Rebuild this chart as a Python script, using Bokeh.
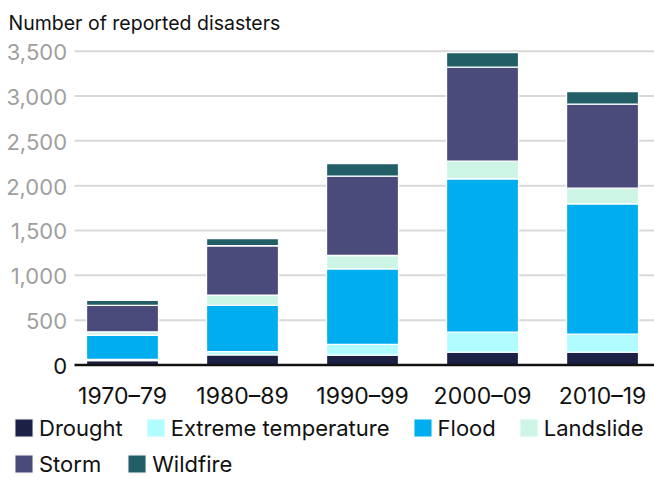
from bokeh.plotting import figure
from bokeh.models import ColumnDataSource, Legend, LegendItem, Range1d
from bokeh.embed import file_html
from bokeh.resources import INLINE
from bokeh.core.properties import value

# ---- data ----
decades = ["1970–79", "1980–89", "1990–99", "2000–09", "2010–19"]
drought = [50, 112, 110, 143, 143]
extreme_temperature = [12, 38, 120, 223, 201]
flood = [270, 515, 843, 1711, 1454]
landslide = [38, 115, 148, 196, 174]
storm = [295, 550, 885, 1048, 937]
wildfire = [55, 81, 141, 164, 141]

series_names = ["Drought", "Extreme temperature", "Flood", "Landslide", "Storm", "Wildfire"]
series_keys = ["drought", "extreme", "flood", "landslide", "storm", "wildfire"]
colors = ["#1c2045", "#b0fcfe", "#00adee", "#cdf5e6", "#4a4b7b", "#215e66"]
y_ticks = [0, 500, 1000, 1500, 2000, 2500, 3000, 3500]
title_text = "Number of reported disasters"

FONT = "Inter"

pos = list(range(1, len(decades) + 1))
source = ColumnDataSource(dict(x=pos, drought=drought, extreme=extreme_temperature,
                               flood=flood, landslide=landslide, storm=storm,
                               wildfire=wildfire))

# layout (the frame covers the whole canvas)
X_START, X_END = -0.0167, 5.433
Y_START, Y_END = -1277, 4065
GRID_LEFT = 0.6

p = figure(width=654, height=479, output_backend="svg", toolbar_location=None,
           x_range=Range1d(X_START, X_END), y_range=Range1d(Y_START, Y_END),
           min_border=0, title=None)
p.outline_line_color = None
p.background_fill_color = "white"
p.border_fill_color = "white"
p.axis.visible = False
p.xgrid.grid_line_color = None
p.ygrid.grid_line_color = None

# gridlines (behind the bars)
grid_src = ColumnDataSource(dict(y=y_ticks[1:]))
p.segment(x0=GRID_LEFT, x1=X_END, y0="y", y1="y", source=grid_src,
          line_color="#d9d9d9", line_width=2)

renderers = p.vbar_stack(series_keys, x="x", width=0.6, color=colors, source=source,
                         line_color="white", line_width=1.3)

# baseline
p.segment(x0=[GRID_LEFT], x1=[X_END], y0=[y_ticks[0]], y1=[y_ticks[0]],
          line_color="#111111", line_width=2.5)

# y tick labels
ylab = ColumnDataSource(dict(
    y=y_ticks,
    text=[f"{v:,}" for v in y_ticks],
    color=["#111111" if v == 0 else "#9f9f9f" for v in y_ticks],
    x=[GRID_LEFT] * len(y_ticks),
))
p.text(x="x", y="y", text="text", source=ylab, text_color="color",
       text_font=value(FONT), text_font_size=value("22px"),
       text_align="right", text_baseline="middle", x_offset=-7.5, y_offset=1)

# x tick labels (categories)
xlab = ColumnDataSource(dict(x=pos, y=[y_ticks[0]] * len(pos), text=decades))
p.text(x="x", y="y", text="text", source=xlab, text_color="#111111",
       text_font=value(FONT), text_font_size=value("23px"),
       text_align="center", text_baseline="middle", y_offset=31)

# title
p.text(x=[X_START], y=[Y_END], text=[title_text], text_color="#111111",
       text_font=value(FONT), text_font_size=value("19.5px"),
       text_align="left", text_baseline="middle", x_offset=8, y_offset=22)

# legends (two rows), inside the frame near its bottom
def make_legend(idx, loc, spacing):
    items = [LegendItem(label=series_names[i], renderers=[renderers[i]]) for i in idx]
    return Legend(items=items, location=loc, orientation="horizontal",
                  glyph_width=23, glyph_height=23, label_height=23, label_standoff=4,
                  spacing=spacing, padding=0, margin=0, border_line_color=None,
                  background_fill_alpha=0, label_text_font=FONT,
                  label_text_font_size="22px", label_text_color="#111111")

p.add_layout(make_legend([0, 1, 2, 3], (12, 38.5), 21))
p.add_layout(make_legend([4, 5], (12, 2.5), 24))

open("out.html", "w").write(file_html(p, INLINE))
